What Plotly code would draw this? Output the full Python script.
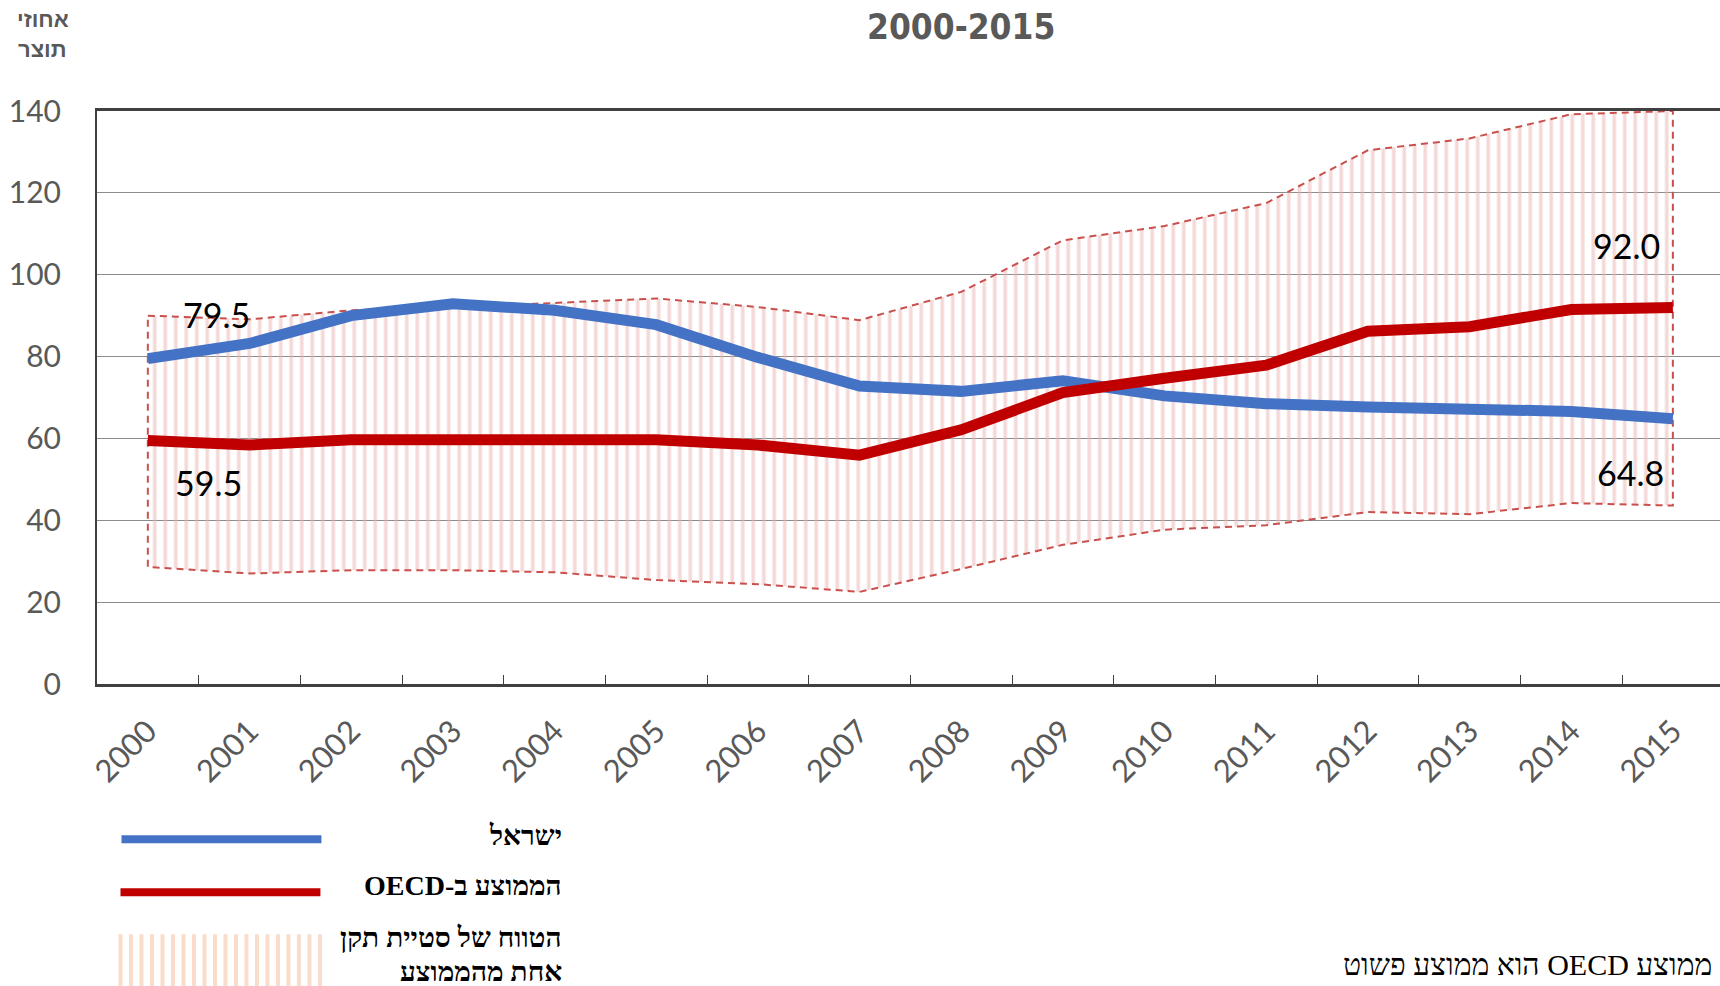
import plotly.graph_objects as go

years = [str(y) for y in range(2000, 2016)]
israel = [79.5, 83.2, 90.0, 92.9, 91.3, 87.8, 79.8, 72.8, 71.5, 74.1, 70.4, 68.5, 67.7, 67.2, 66.6, 64.8]
oecd = [59.5, 58.4, 59.7, 59.7, 60.0, 59.7, 58.4, 55.9, 62.1, 71.2, 74.7, 77.9, 86.2, 87.3, 91.5, 92.0]
band_upper = [90.0, 89.1, 91.3, 92.1, 93.1, 94.2, 92.1, 88.9, 95.8, 108.4, 111.9, 117.5, 130.4, 133.3, 139.2, 140.0]
band_lower = [28.6, 27.0, 27.8, 27.8, 27.3, 25.4, 24.4, 22.5, 28.1, 34.0, 37.7, 38.8, 42.0, 41.5, 44.2, 43.6]

title_text = "2000-2015"
ytitle_lines = ["אחוזי", "תוצר"]
legend_labels = ["ישראל", "הממוצע ב-OECD", "הטווח של סטיית תקן", "אחת מהממוצע"]
footnote = "ממוצע OECD הוא ממוצע פשוט"

W, H = 1720, 986
L, T = 96.5, 111
BOT = 684.5
R = 0
PW = W - L - R
B = H - BOT
PH = H - T - B
CAT_W = 101.7  # pixel width of one category, so the plot runs just past the right edge
x_range = [-0.5, -0.5 + PW / CAT_W]

def px(xr):
    return (xr - L) / PW

def py(yr):
    return (BOT - yr) / PH

RLE, PDF = "\u202b", "\u202c"

fig = go.Figure()

# band (mean +/- one standard deviation)
bx = years + years[::-1] + [years[0]]
by = band_upper + band_lower[::-1] + [band_upper[0]]
fig.add_trace(go.Scatter(
    x=bx, y=by, mode="lines", fill="toself",
    fillcolor="rgba(0,0,0,0)",
    fillpattern=dict(shape="|", fgcolor="#ebb3b3", bgcolor="rgba(255,255,255,0)",
                     size=10.5, solidity=0.35, fillmode="overlay"),
    line=dict(color="#c9504d", width=2, dash="7px,5px"),
    hoverinfo="skip", showlegend=False,
))
fig.add_trace(go.Scatter(x=years, y=israel, mode="lines",
                         line=dict(color="#4472C4", width=11), showlegend=False))
fig.add_trace(go.Scatter(x=years, y=oecd, mode="lines",
                         line=dict(color="#C00000", width=11), showlegend=False))

num_font = dict(family="Lato, Open Sans, sans-serif", size=34, color="#000000")
last = len(years) - 1
fig.add_annotation(x=0, y=israel[0], text=f"{israel[0]:.1f}", showarrow=False,
                   xshift=69, yshift=44, font=num_font)
fig.add_annotation(x=0, y=oecd[0], text=f"{oecd[0]:.1f}", showarrow=False,
                   xshift=61, yshift=-42, font=num_font)
fig.add_annotation(x=last, y=oecd[-1], text=f"{oecd[-1]:.1f}", showarrow=False,
                   xshift=-46, yshift=62, font=num_font)
fig.add_annotation(x=last, y=israel[-1], text=f"{israel[-1]:.1f}", showarrow=False,
                   xshift=-42, yshift=-54, font=num_font)

# title
fig.add_annotation(xref="paper", yref="paper", x=px(961), y=py(27), text=f"<b>{title_text}</b>",
                   showarrow=False, xanchor="center", yanchor="middle",
                   font=dict(family="DejaVu Sans Condensed, DejaVu Sans", size=35, color="#595959"))
# y title
for i, t in enumerate(ytitle_lines):
    fig.add_annotation(xref="paper", yref="paper", x=px(42), y=py(19 + 30 * i), text=f"<b>{t}</b>",
                       showarrow=False, xanchor="center", yanchor="middle",
                       font=dict(family="Liberation Sans, Arial", size=22, color="#595959"))

# legend
leg_font = dict(family="Liberation Serif, Times New Roman", size=28, color="#000000")
fig.add_shape(type="line", xref="paper", yref="paper", x0=px(121), x1=px(321), y0=py(840), y1=py(840),
              line=dict(color="#4472C4", width=8))
fig.add_shape(type="line", xref="paper", yref="paper", x0=px(120), x1=px(320), y0=py(893), y1=py(893),
              line=dict(color="#C00000", width=8))
xp = 120.0
while xp <= 327:
    fig.add_shape(type="line", xref="paper", yref="paper", x0=px(xp), x1=px(xp), y0=py(935), y1=py(990),
                  line=dict(color="#f9dccb", width=4))
    xp += 10.5
legend_pos = [836, 886, 939, 972]
for t, yy in zip(legend_labels, legend_pos):
    fig.add_annotation(xref="paper", yref="paper", x=px(564), y=py(yy), text=f"<b>{RLE}{t}{PDF}</b>",
                       showarrow=False, xanchor="right", yanchor="middle", font=leg_font)

# footnote
fig.add_annotation(xref="paper", yref="paper", x=px(1714), y=py(965), text=f"{RLE}{footnote}{PDF}",
                   showarrow=False, xanchor="right", yanchor="middle",
                   font=dict(family="Liberation Serif, Times New Roman", size=30, color="#000000"))

tick_font = dict(family="Lato, Open Sans, sans-serif", size=30, color="#595959")
xtick_font = dict(family="Lato, Open Sans, sans-serif", size=31, color="#595959")
fig.update_layout(
    width=W, height=H,
    margin=dict(l=L, r=R, t=T, b=B, pad=0),
    plot_bgcolor="white", paper_bgcolor="white",
    xaxis=dict(type="category", range=x_range, showgrid=False,
               showline=True, linecolor="#404040", linewidth=2.5, mirror=True,
               ticks="inside", tickson="boundaries", ticklen=9, tickcolor="#404040", tickwidth=1,
               tickangle=-45, tickfont=xtick_font, ticklabelstandoff=14),
    yaxis=dict(range=[0, 140], dtick=20, showgrid=True, gridcolor="#8c8c8c", gridwidth=1,
               showline=True, linecolor="#404040", linewidth=2, zeroline=False,
               ticks="", tickfont=tick_font, ticklabelstandoff=28),
)

fig.write_html(
    "out.html",
    config={"displayModeBar": False},
    post_script="document.body.style.margin='0';document.body.style.overflow='hidden';",
)
